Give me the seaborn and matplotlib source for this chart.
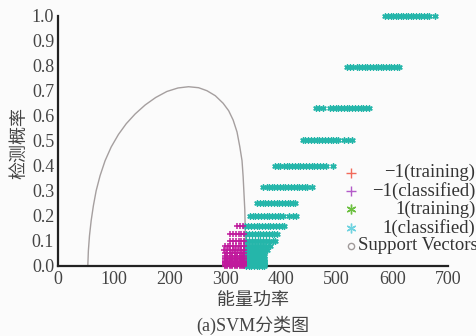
import pandas as pd
import matplotlib.pyplot as plt
import seaborn as sns

# detection probability of each row of points
row_levels = [1.0, 0.794, 0.631, 0.501, 0.398, 0.316, 0.251, 0.200, 0.158, 0.126, 0.100, 0.079, 0.063]

# energy values of the points classified as 1, per row
pos_rows = [
    [586, 592, 597, 601, 606, 610, 615, 620, 624, 629, 634, 638, 643, 648, 652, 657, 662, 666, 677],
    [518, 524, 530, 536, 541, 546, 550, 555, 560, 565, 570, 574, 579, 584, 589, 594, 598, 603, 608, 612],
    [463, 469, 476, 488, 493, 498, 503, 508, 513, 518, 523, 528, 533, 538, 543, 548, 553, 558],
    [439, 444, 449, 454, 459, 464, 469, 474, 479, 484, 489, 494, 499, 503, 513, 520, 528],
    [389, 394, 399, 405, 410, 415, 420, 425, 430, 435, 440, 445, 450, 455, 460, 465, 470, 475, 481, 494],
    [368, 374, 378, 383, 388, 393, 398, 403, 408, 413, 418, 423, 428, 433, 438, 443, 447, 456],
    [357, 362, 367, 372, 377, 382, 387, 392, 397, 402, 407, 412, 417, 422, 425],
    [344, 349, 354, 359, 364, 369, 374, 379, 384, 389, 394, 399, 404, 414, 421, 427],
    [336, 341, 346, 351, 356, 361, 366, 371, 376, 381, 386, 391, 396, 401, 405],
    [338, 343, 348, 353, 358, 363, 368, 373, 378, 383, 388, 392],
    [338, 343, 348, 353, 358, 363, 368, 373, 378, 385, 390],
    [338, 343, 348, 353, 358, 363, 368, 373, 380],
    [338, 343, 348, 353, 358, 363, 368, 374],
]
# energy values of the points classified as -1, per row
neg_rows = [
    [], [], [], [], [], [], [], [],
    [321, 326, 331],
    [308, 313, 319, 324, 329, 333],
    [309, 314, 319, 324, 329, 333],
    [299, 304, 309, 314, 319, 324, 329, 333],
    [298, 303, 308, 313, 318, 323, 328, 333],
]

# the rows near zero all cover the same range
bottom_levels = [0.050, 0.040, 0.032, 0.025, 0.020, 0.016, 0.013, 0.010, 0.006, 0.003, 0.0]
bottom_pos_x = [338, 342, 347, 351, 356, 360, 365, 370]
bottom_neg_x = [299, 303, 308, 312, 317, 321, 326, 330, 334]

# decision boundary
boundary_x = [53, 54, 56, 59, 63, 68, 75, 84, 95, 108, 122, 138, 156, 175, 195, 215, 234,
              252, 267, 282, 296, 306, 314, 321, 326, 330, 332, 335, 336, 337]
boundary_y = [0.0, 0.06, 0.12, 0.18, 0.24, 0.30, 0.36, 0.42, 0.475, 0.525, 0.568, 0.607, 0.643,
              0.673, 0.697, 0.711, 0.716, 0.712, 0.70, 0.68, 0.65, 0.62, 0.583, 0.535, 0.476,
              0.42, 0.356, 0.223, 0.12, 0.0]

legend_labels = ['\u22121(training)', '\u22121(classified)', '1(training)', '1(classified)', 'Support Vectors']

teal = '#25b6aa'
magenta = '#c01a9c'

pos = []
neg = []
for lvl, xs, nxs in zip(row_levels, pos_rows, neg_rows):
    pos += [(x, lvl) for x in xs]
    neg += [(x, lvl) for x in nxs]
for lvl in bottom_levels:
    pos += [(x, lvl) for x in bottom_pos_x]
    neg += [(x, lvl) for x in bottom_neg_x]
pos_df = pd.DataFrame(pos, columns=['energy', 'prob'])
neg_df = pd.DataFrame(neg, columns=['energy', 'prob'])

sns.set_style('white')
plt.rcParams['font.family'] = ['Liberation Serif', 'Noto Sans CJK SC']
plt.rcParams['axes.unicode_minus'] = True

fig = plt.figure(figsize=(4.76, 3.36), dpi=100, facecolor='#fbfbfb')
ax = fig.add_axes([0.1225, 0.2092, 0.8187, 0.744])
ax.set_facecolor('#fbfbfb')

sns.lineplot(x=boundary_x, y=boundary_y, sort=False, estimator=None, color='#a59f9f',
             linewidth=1.0, ax=ax)
sns.scatterplot(data=pos_df, x='energy', y='prob', marker=(6, 2, 0), color=teal, s=14,
                linewidth=1.1, ax=ax, zorder=3, clip_on=False)
sns.scatterplot(data=neg_df, x='energy', y='prob', marker='+', color=magenta, s=14,
                linewidth=1.1, ax=ax, zorder=3, clip_on=False)

ax.set_xlim(0, 700)
ax.set_ylim(0, 1.0)
ax.set_xticks(range(0, 701, 100))
ax.set_yticks([i / 10 for i in range(11)])
ax.set_yticklabels([f'{i / 10:.1f}' for i in range(11)])
ax.set_xlabel('')
ax.set_ylabel('')
for side in ['top', 'right']:
    ax.spines[side].set_visible(False)
for side in ['left', 'bottom']:
    ax.spines[side].set_linewidth(1.6)
    ax.spines[side].set_color('#222222')
ax.tick_params(direction='in', length=4, width=1, colors='#222222', labelcolor='#444444',
               labelsize=13)
ax.tick_params(axis='x', pad=4)
ax.tick_params(axis='y', pad=3)

# legend drawn by hand, labels right aligned as in the original
leg_y = [0.372, 0.300, 0.226, 0.151, 0.079]
leg_style = [('+', '#f26a5a'), ('+', '#b35ac8'), ((6, 2, 0), '#6cc040'), ((6, 2, 0), '#6fd3e0'), ('o', '#a09a9a')]
for (m, c), yy, lab in zip(leg_style, leg_y, legend_labels):
    if m == 'o':
        ax.plot(0.751, yy, marker='o', ms=4.5, mfc='none', mec=c, mew=1.0,
                transform=ax.transAxes, clip_on=False)
        ax.text(0.768, yy, lab, transform=ax.transAxes, ha='left', va='center',
                fontsize=13.5, color='#333333')
    else:
        ax.plot(0.751, yy, marker=m, ms=7, mec=c, mew=1.0, linestyle='none',
                transform=ax.transAxes, clip_on=False)
        ax.text(1.07, yy, lab, transform=ax.transAxes, ha='right', va='center',
                fontsize=13.5, color='#333333')

fig.text(19 / 476, 1 - 143 / 336, '检测概率', rotation=90, ha='center', va='center',
         fontsize=13, color='#444444', family=['Noto Sans CJK SC'])
fig.text(253 / 476, 1 - 301 / 336, '能量功率', ha='center', va='center',
         fontsize=13, color='#444444', family=['Noto Sans CJK SC'])
fig.text(253 / 476, 1 - 325 / 336, '(a)SVM分类图', ha='center', va='center',
         fontsize=13, color='#444444', family=['Liberation Serif', 'Noto Sans CJK SC'])

fig.savefig('out.png', dpi=100, facecolor=fig.get_facecolor())
